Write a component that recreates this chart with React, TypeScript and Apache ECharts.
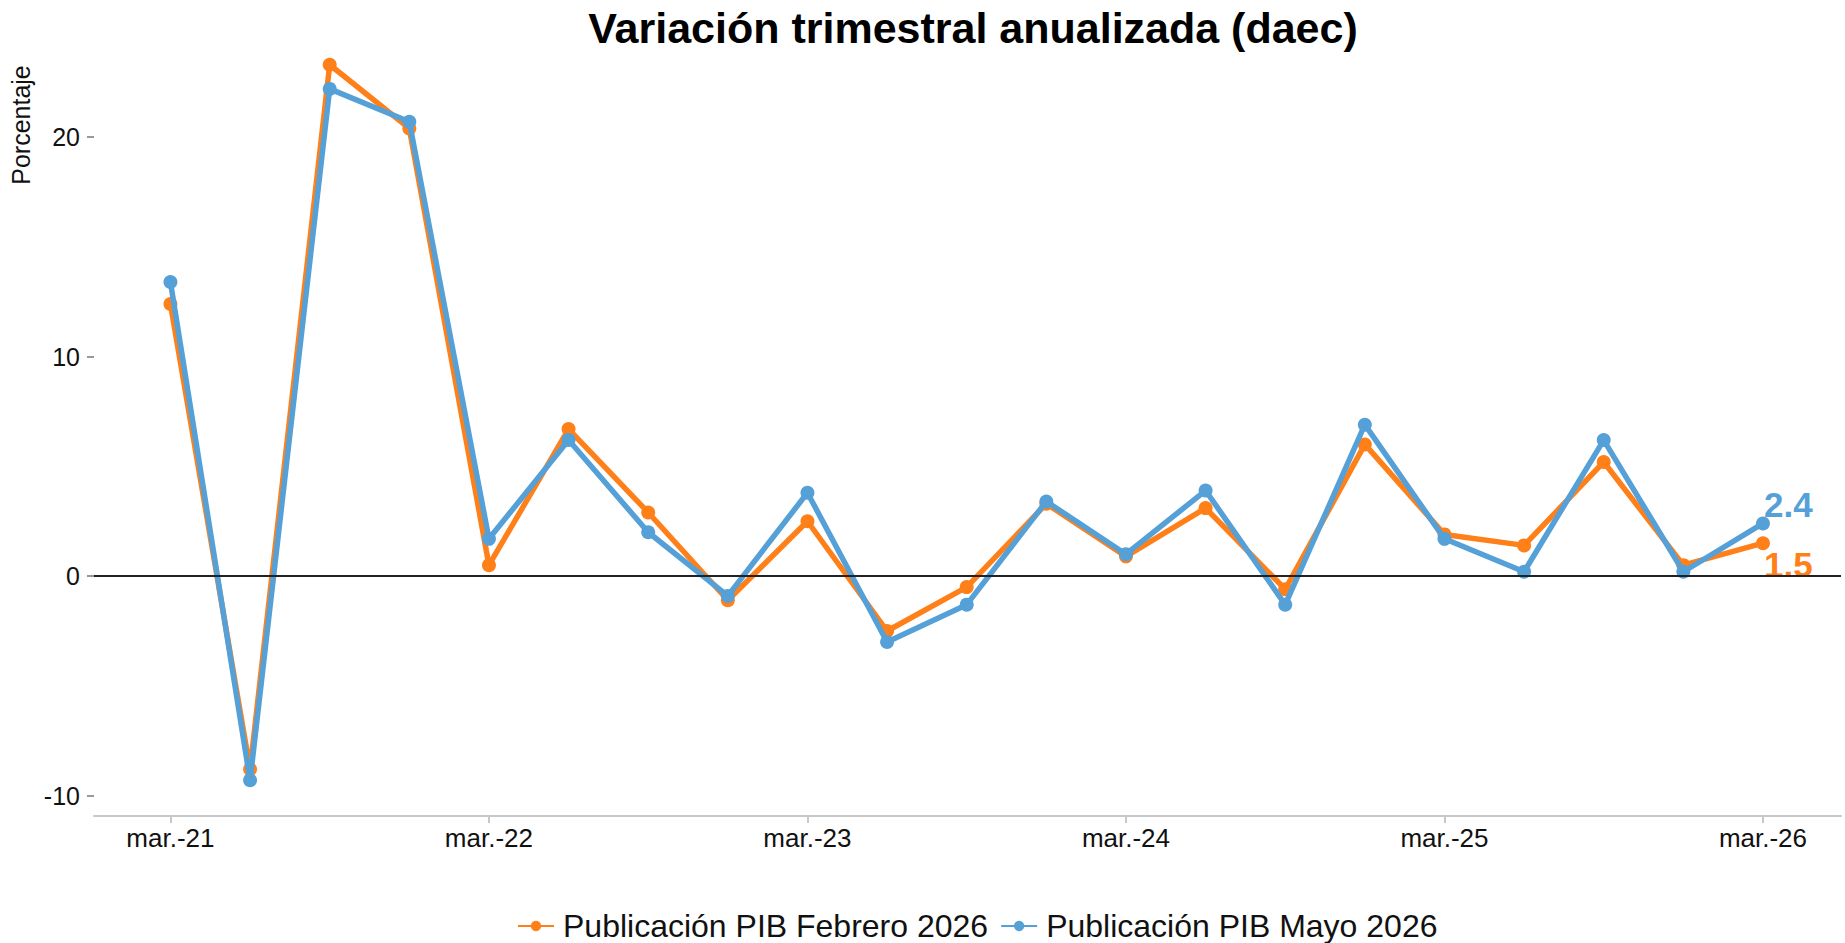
import React, { useEffect, useRef } from "react";
import * as echarts from "echarts";

const quarters = [
  "mar.-21", "jun.-21", "sep.-21", "dic.-21",
  "mar.-22", "jun.-22", "sep.-22", "dic.-22",
  "mar.-23", "jun.-23", "sep.-23", "dic.-23",
  "mar.-24", "jun.-24", "sep.-24", "dic.-24",
  "mar.-25", "jun.-25", "sep.-25", "dic.-25",
  "mar.-26",
];
const xTickIndexes = [0, 4, 8, 12, 16, 20];
const yTicks = [-10, 0, 10, 20];

const febrero2026 = [12.4, -8.8, 23.3, 20.4, 0.5, 6.7, 2.9, -1.1, 2.5, -2.5, -0.5, 3.3, 0.9, 3.1, -0.6, 6.0, 1.9, 1.4, 5.2, 0.5, 1.5];
const mayo2026 = [13.4, -9.3, 22.2, 20.7, 1.7, 6.2, 2.0, -0.9, 3.8, -3.0, -1.3, 3.4, 1.0, 3.9, -1.3, 6.9, 1.7, 0.2, 6.2, 0.2, 2.4];

const seriesNames = ["Publicación PIB Febrero 2026", "Publicación PIB Mayo 2026"];
const ORANGE = "#FF8019";
const BLUE = "#56A0D8";
const FONT = "Liberation Sans, Arial, sans-serif";

function buildData(values: number[], color: string, offset: number[]) {
  const last = values.length - 1;
  return values.map((v, i) =>
    i === last
      ? {
          value: [i, v],
          label: {
            show: true,
            position: "right",
            distance: 0,
            offset,
            formatter: (p: any) => p.value[1].toFixed(1),
            color,
            fontFamily: FONT,
            fontWeight: "bold",
            fontSize: 35,
          },
        }
      : [i, v]
  );
}

export default function App() {
  const ref = useRef<HTMLDivElement>(null);
  useEffect(() => {
    if (!ref.current) return;
    const chart = echarts.init(ref.current, null, { renderer: "svg" });
    chart.setOption({
      animation: false,
      backgroundColor: "#ffffff",
      title: {
        text: "Variación trimestral anualizada (daec)",
        left: 968,
        textAlign: "center",
        top: 1,
        textStyle: { fontFamily: FONT, fontWeight: "bold", fontSize: 43, color: "#000" },
      },
      legend: {
        left: 512,
        top: 905,
        itemWidth: 36,
        itemHeight: 13,
        itemGap: 12,
        textStyle: { fontFamily: FONT, fontSize: 32, color: "#111", padding: [0, 0, 0, 4] },
        data: seriesNames,
      },
      grid: { left: 94, right: 4, top: 29, bottom: 127 },
      xAxis: {
        type: "value",
        min: -0.96,
        max: 20.98,
        splitLine: { show: false },
        axisLine: { show: true, onZero: false, lineStyle: { color: "#c8c8c8", width: 2 } },
        axisTick: { show: true, customValues: xTickIndexes, length: 7, lineStyle: { color: "#c8c8c8", width: 2 } },
        axisLabel: {
          customValues: xTickIndexes,
          formatter: (v: number) => quarters[Math.round(v)],
          fontFamily: FONT,
          fontSize: 26,
          color: "#111",
          margin: 9,
        },
      },
      yAxis: {
        type: "value",
        min: -10.93,
        max: 24.93,
        splitLine: { show: false },
        axisLine: { show: false, onZero: false },
        axisTick: { show: true, customValues: yTicks, length: 7, lineStyle: { color: "#999999", width: 2 } },
        axisLabel: {
          customValues: yTicks,
          fontFamily: FONT,
          fontSize: 25,
          color: "#111",
          margin: 14,
        },
      },
      graphic: [
        {
          type: "text",
          x: 21,
          y: 125,
          rotation: Math.PI / 2,
          style: {
            text: "Porcentaje",
            fontFamily: FONT,
            fontSize: 25,
            fill: "#111",
            textAlign: "center",
            textVerticalAlign: "middle",
          },
        },
      ],
      series: [
        {
          name: seriesNames[0],
          type: "line",
          data: buildData(febrero2026, ORANGE, [-6, 21]),
          color: ORANGE,
          lineStyle: { width: 5.5, color: ORANGE },
          itemStyle: { color: ORANGE },
          symbol: "circle",
          symbolSize: 14,
          z: 2,
        },
        {
          name: seriesNames[1],
          type: "line",
          data: buildData(mayo2026, BLUE, [-6, -19]),
          color: BLUE,
          lineStyle: { width: 5.5, color: BLUE },
          itemStyle: { color: BLUE },
          symbol: "circle",
          symbolSize: 14,
          z: 3,
          markLine: {
            silent: true,
            symbol: ["none", "none"],
            label: { show: false },
            lineStyle: { color: "#222", width: 2, type: "solid" },
            data: [{ yAxis: 0 }],
            z: 5,
          },
        },
      ],
    });
    return () => chart.dispose();
  }, []);
  return (
    <div
      ref={ref}
      style={{ position: "absolute", left: 0, top: 0, width: 1845, height: 943 }}
    />
  );
}
